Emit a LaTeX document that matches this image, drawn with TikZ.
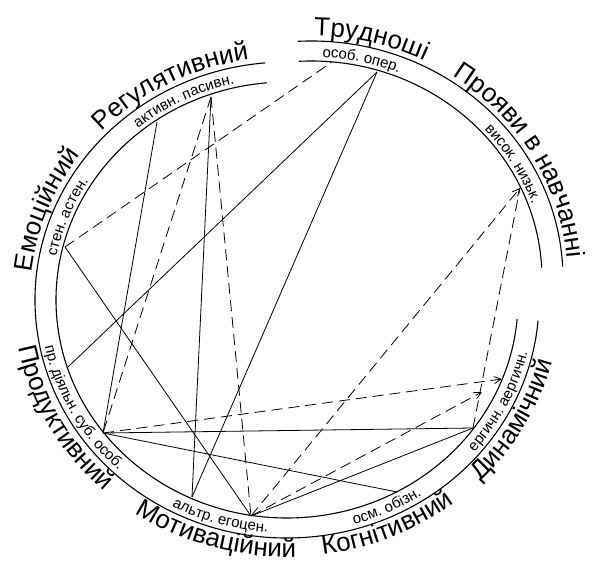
\documentclass[tikz,border=0pt]{standalone}
\usepackage{fontspec}
\setmainfont{Liberation Sans}
\usetikzlibrary{decorations.text,arrows.meta}
\newcommand\bigf{\fontsize{26}{26}\selectfont}
\newcommand\smallf{\fontsize{15}{15}\selectfont}
\newcommand\arclabel[7]{\path[decorate,decoration={text along path,text align=center,text={#7}}] ([shift={(#1,#2)}]#5:#3pt and #4pt) arc[start angle=#5,end angle=#6,x radius=#3pt,y radius=#4pt];}
\tikzset{
  ringline/.style={line width=1.1pt},
  posline/.style={line width=0.8pt},
  negline/.style={line width=0.8pt,dash pattern=on 11pt off 6pt},
  arrline/.style={-{Straight Barb[length=7pt,width=7pt,line width=0.8pt]}}
}
\begin{document}
\begin{tikzpicture}[x=1pt,y=1pt]
\useasboundingbox (0,0) rectangle (593,560);
% rings: main part
\draw[ringline] ([shift={(287,260)}]95:231pt and 218pt) arc[start angle=95,end angle=355,x radius=231pt,y radius=218pt];
\draw[ringline] ([shift={(287,260)}]95:252pt and 238pt) arc[start angle=95,end angle=355,x radius=252pt,y radius=238pt];
% rings: detached part
\draw[ringline] ([shift={(311,281)}]93:231pt and 218pt) arc[start angle=93,end angle=3,x radius=231pt,y radius=218pt];
\draw[ringline] ([shift={(311,281)}]93:252pt and 238pt) arc[start angle=93,end angle=3,x radius=252pt,y radius=238pt];
% big labels
\arclabel{287}{260}{257}{243}{193.7}{123.7}{|\bigf|Емоційний}
\arclabel{287}{260}{257}{243}{152.6}{82.6}{|\bigf|Регулятивний}
\arclabel{311}{281}{257}{243}{111.4}{41.4}{|\bigf|Трудноші}
\arclabel{311}{281}{257}{243}{70.5}{-9.5}{|\bigf|Прояви в навчанні}
\arclabel{287}{260}{273}{257}{174}{244}{|\bigf|Продуктивний}
\arclabel{287}{260}{273}{257}{218.8}{288.8}{|\bigf|Мотиваційний}
\arclabel{287}{260}{273}{257}{258}{328}{|\bigf|Когнітивний}
\arclabel{287}{260}{273}{257}{296}{366}{|\bigf|Динамічний}
% small labels
\arclabel{287}{260}{235}{222}{188.4}{128.4}{|\smallf|стен. астен.}
\arclabel{287}{260}{235}{222}{146.4}{86.4}{|\smallf|активн. пасивн.}
\arclabel{311}{281}{235}{222}{107.5}{47.5}{|\smallf|особ. опер.}
\arclabel{311}{281}{235}{222}{60.8}{0.8}{|\smallf|висок. низьк.}
\arclabel{287}{260}{247}{233}{179}{239}{|\smallf|пр. діяльн. суб. особ.}
\arclabel{287}{260}{247}{233}{223.7}{283.7}{|\smallf|альтр. егоцен.}
\arclabel{287}{260}{247}{233}{264.7}{324.7}{|\smallf|осм. обізн.}
\arclabel{287}{260}{247}{233}{303.4}{363.4}{|\smallf|ергичн. аергичн.}
% points
\coordinate (sten) at (65,313);
\coordinate (aktyvn) at (157,438);
\coordinate (pasyvn) at (211,463);
\coordinate (osob) at (332,498);
\coordinate (oper) at (377,488);
\coordinate (nyzk) at (520,372);
\coordinate (aerg) at (502,181);
\coordinate (aergtip) at (482,168);
\coordinate (erg) at (473,132);
\coordinate (obizn) at (397,68);
\coordinate (egocen) at (251,44);
\coordinate (altr) at (192,63);
\coordinate (subosob) at (103,127);
\coordinate (prdialn) at (68,193);
% solid connectors
\draw[posline] (sten) -- (egocen);
\draw[posline] (aktyvn) -- (subosob);
\draw[posline] (pasyvn) -- (altr);
\draw[posline] (oper) -- (prdialn);
\draw[posline] (oper) -- (altr);
\draw[posline] (subosob) -- (erg);
\draw[posline] (subosob) -- (obizn);
\draw[posline] (egocen) -- (erg);
% dashed connectors
\draw[negline] (sten) -- (osob);
\draw[negline] (pasyvn) -- (subosob);
\draw[negline] (pasyvn) -- (egocen);
\draw[negline,arrline] (egocen) -- (nyzk);
\draw[negline] (erg) -- (nyzk);
\draw[negline,arrline] (subosob) -- (aerg);
\draw[negline,arrline] (egocen) -- (aergtip);
\end{tikzpicture}
\end{document}
